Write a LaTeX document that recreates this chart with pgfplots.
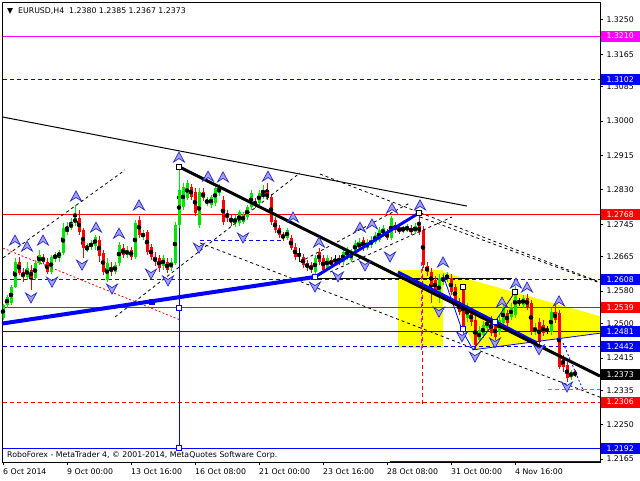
\documentclass[border=0pt]{standalone}
\usepackage{fontspec}
\setmainfont{DejaVu Sans}
\usepackage{pgfplots}
\usepackage{pgfplotstable}
\pgfplotsset{compat=1.18}
\definecolor{mtgreen}{RGB}{0,230,0}
\definecolor{mtred}{RGB}{255,0,0}
\definecolor{mtblue}{RGB}{0,0,255}
\definecolor{mtmag}{RGB}{255,0,255}
\definecolor{mtyellow}{RGB}{255,255,0}
\definecolor{arrdark}{RGB}{40,40,200}
\definecolor{arrlight}{RGB}{160,160,245}
\definecolor{mtorange}{RGB}{255,90,20}
\newcommand\mtf{\fontsize{7.8}{9}\selectfont}

\pgfdeclareplotmark{fup}{%
  \pgfpathmoveto{\pgfqpoint{0pt}{5pt}}%
  \pgfpathlineto{\pgfqpoint{5.5pt}{-5pt}}%
  \pgfpathlineto{\pgfqpoint{0pt}{-1.5pt}}%
  \pgfpathlineto{\pgfqpoint{-5.5pt}{-5pt}}%
  \pgfpathclose
  \pgfusepathqfillstroke}
\pgfdeclareplotmark{fdn}{%
  \pgfpathmoveto{\pgfqpoint{0pt}{-5pt}}%
  \pgfpathlineto{\pgfqpoint{5.5pt}{5pt}}%
  \pgfpathlineto{\pgfqpoint{0pt}{1.5pt}}%
  \pgfpathlineto{\pgfqpoint{-5.5pt}{5pt}}%
  \pgfpathclose
  \pgfusepathqfillstroke}

\pgfplotstableread{
i o h l c
0 1.2514 1.2548 1.2509 1.2546
1 1.2546 1.2570 1.2538 1.2565
2 1.2551 1.2595 1.2546 1.2590
3 1.2590 1.2662 1.2588 1.2652
6 1.2615 1.2652 1.2607 1.2637
8 1.2612 1.2657 1.2607 1.2649
9 1.2649 1.2682 1.2644 1.2669
12 1.2627 1.2669 1.2622 1.2664
13 1.2662 1.2677 1.2652 1.2669
14 1.2664 1.2682 1.2652 1.2677
15 1.2674 1.2748 1.2669 1.2736
16 1.2726 1.2751 1.2719 1.2736
17 1.2736 1.2761 1.2731 1.2748
18 1.2748 1.2793 1.2741 1.2761
21 1.2682 1.2699 1.2677 1.2689
22 1.2689 1.2706 1.2682 1.2699
23 1.2691 1.2719 1.2682 1.2714
26 1.2607 1.2662 1.2602 1.2649
28 1.2627 1.2652 1.2622 1.2644
29 1.2649 1.2701 1.2642 1.2694
31 1.2669 1.2691 1.2662 1.2682
33 1.2664 1.2756 1.2659 1.2748
35 1.2714 1.2731 1.2706 1.2723
40 1.2642 1.2669 1.2632 1.2662
42 1.2637 1.2662 1.2630 1.2652
43 1.2649 1.2751 1.2644 1.2743
44 1.2743 1.2887 1.2736 1.2830
45 1.2788 1.2847 1.2780 1.2837
46 1.2810 1.2854 1.2805 1.2847
49 1.2743 1.2835 1.2736 1.2825
51 1.2798 1.2812 1.2790 1.2805
52 1.2793 1.2817 1.2785 1.2812
53 1.2798 1.2842 1.2790 1.2835
54 1.2823 1.2845 1.2815 1.2835
58 1.2748 1.2768 1.2738 1.2761
59 1.2748 1.2780 1.2741 1.2775
60 1.2751 1.2775 1.2746 1.2768
61 1.2763 1.2793 1.2756 1.2788
62 1.2788 1.2830 1.2780 1.2823
64 1.2798 1.2830 1.2793 1.2823
65 1.2812 1.2842 1.2808 1.2823
71 1.2711 1.2736 1.2706 1.2731
78 1.2627 1.2669 1.2622 1.2662
81 1.2637 1.2669 1.2630 1.2662
85 1.2652 1.2686 1.2644 1.2677
86 1.2664 1.2689 1.2657 1.2682
87 1.2657 1.2684 1.2652 1.2677
88 1.2677 1.2706 1.2672 1.2699
89 1.2686 1.2711 1.2682 1.2701
91 1.2686 1.2709 1.2682 1.2701
92 1.2694 1.2716 1.2686 1.2706
93 1.2701 1.2726 1.2696 1.2719
94 1.2706 1.2738 1.2701 1.2731
95 1.2719 1.2743 1.2714 1.2736
97 1.2711 1.2765 1.2706 1.2761
100 1.2731 1.2741 1.2723 1.2736
101 1.2731 1.2746 1.2726 1.2738
103 1.2726 1.2748 1.2721 1.2741
109 1.2565 1.2622 1.2551 1.2612
110 1.2602 1.2625 1.2595 1.2615
111 1.2612 1.2627 1.2602 1.2620
116 1.2514 1.2551 1.2504 1.2541
119 1.2459 1.2494 1.2454 1.2484
120 1.2471 1.2506 1.2464 1.2496
121 1.2489 1.2518 1.2481 1.2509
124 1.2479 1.2518 1.2471 1.2509
125 1.2501 1.2548 1.2494 1.2541
127 1.2516 1.2551 1.2509 1.2541
128 1.2521 1.2593 1.2514 1.2583
130 1.2546 1.2570 1.2538 1.2563
133 1.2479 1.2501 1.2471 1.2491
137 1.2479 1.2538 1.2471 1.2528
142 1.2368 1.2385 1.2360 1.2380
}\upcandles

\pgfplotstableread{
i o h l c
4 1.2652 1.2664 1.2620 1.2625
5 1.2627 1.2637 1.2602 1.2615
7 1.2632 1.2644 1.2583 1.2612
10 1.2664 1.2672 1.2647 1.2652
11 1.2652 1.2662 1.2622 1.2627
19 1.2761 1.2780 1.2719 1.2726
20 1.2731 1.2736 1.2662 1.2686
24 1.2706 1.2716 1.2652 1.2667
25 1.2674 1.2682 1.2620 1.2627
27 1.2640 1.2652 1.2617 1.2627
30 1.2686 1.2696 1.2662 1.2669
32 1.2682 1.2689 1.2657 1.2664
34 1.2756 1.2765 1.2711 1.2719
36 1.2726 1.2731 1.2669 1.2677
37 1.2689 1.2696 1.2657 1.2664
38 1.2664 1.2677 1.2642 1.2652
39 1.2662 1.2669 1.2627 1.2637
41 1.2652 1.2662 1.2625 1.2632
47 1.2837 1.2845 1.2805 1.2812
48 1.2825 1.2835 1.2765 1.2773
50 1.2825 1.2835 1.2803 1.2810
55 1.2805 1.2815 1.2743 1.2751
56 1.2773 1.2780 1.2751 1.2761
57 1.2761 1.2768 1.2741 1.2751
63 1.2800 1.2810 1.2785 1.2793
66 1.2825 1.2847 1.2805 1.2810
67 1.2812 1.2820 1.2743 1.2751
68 1.2756 1.2763 1.2723 1.2731
69 1.2736 1.2743 1.2711 1.2719
70 1.2719 1.2726 1.2704 1.2711
72 1.2711 1.2719 1.2682 1.2686
73 1.2689 1.2699 1.2657 1.2664
75 1.2664 1.2672 1.2637 1.2644
76 1.2649 1.2657 1.2630 1.2637
77 1.2644 1.2652 1.2625 1.2632
79 1.2677 1.2686 1.2644 1.2652
80 1.2662 1.2669 1.2627 1.2632
82 1.2657 1.2664 1.2637 1.2644
84 1.2662 1.2669 1.2644 1.2652
90 1.2706 1.2714 1.2679 1.2686
96 1.2726 1.2733 1.2706 1.2711
98 1.2743 1.2751 1.2723 1.2731
99 1.2738 1.2746 1.2721 1.2726
102 1.2736 1.2743 1.2719 1.2726
104 1.2741 1.2773 1.2719 1.2726
105 1.2731 1.2741 1.2637 1.2644
106 1.2642 1.2652 1.2617 1.2627
107 1.2627 1.2637 1.2551 1.2595
108 1.2607 1.2617 1.2573 1.2583
112 1.2612 1.2622 1.2570 1.2578
113 1.2590 1.2598 1.2548 1.2558
114 1.2553 1.2563 1.2521 1.2528
115 1.2583 1.2590 1.2479 1.2489
117 1.2528 1.2538 1.2494 1.2504
118 1.2509 1.2518 1.2437 1.2447
122 1.2509 1.2518 1.2469 1.2476
123 1.2496 1.2504 1.2459 1.2467
126 1.2526 1.2533 1.2494 1.2501
131 1.2563 1.2573 1.2533 1.2541
132 1.2551 1.2558 1.2471 1.2479
134 1.2504 1.2514 1.2447 1.2454
135 1.2496 1.2509 1.2469 1.2476
138 1.2528 1.2546 1.2501 1.2509
139 1.2526 1.2533 1.2388 1.2392
140 1.2417 1.2422 1.2380 1.2392
141 1.2397 1.2405 1.2355 1.2365
143 1.2380 1.2385 1.2367 1.2373
}\downcandles

\pgfplotstableread{
i o h l c
74 1.2674 1.2686 1.2652 1.2674
83 1.2657 1.2669 1.2642 1.2657
129 1.2551 1.2563 1.2543 1.2551
136 1.2484 1.2494 1.2474 1.2484
}\dojicandles

\begin{document}
\begin{tikzpicture}
\begin{axis}[
  scale only axis, width=597.5pt, height=459.5pt,
  xmin=-0.125, xmax=149.25, ymin=1.21579, ymax=1.32928,
  axis line style={line width=1pt},
  tick align=outside, major tick length=3pt,
  xtick pos=bottom, ytick pos=right, yticklabel pos=right,
  tick style={black, line width=0.8pt},
  xtick={0,16,32,48,64,80,96,112,128},
  xticklabels={6 Oct 2014, 9 Oct 00:00, 13 Oct 16:00, 16 Oct 08:00, 21 Oct 00:00, 23 Oct 16:00, 28 Oct 08:00, 31 Oct 00:00, 4 Nov 16:00},
  ytick={1.2165,1.2250,1.2335,1.2415,1.2500,1.2580,1.2665,1.2745,1.2830,1.2915,1.3000,1.3085,1.3165,1.3250},
  yticklabels={1.2165,1.2250,1.2335,1.2415,1.2500,1.2580,1.2665,1.2745,1.2830,1.2915,1.3000,1.3085,1.3165,1.3250},
  every tick label/.append style={font=\mtf, text=black},
  xticklabel style={anchor=north west, inner xsep=0pt},
  yticklabel style={anchor=west},
  clip mode=individual,
]
% yellow zones
\addplot[fill=mtyellow, draw=none] coordinates {(98.75,1.2632) (110,1.2632) (110,1.2439) (98.75,1.2439)};
\addplot[fill=mtyellow, draw=none] coordinates {(110,1.2627) (149.25,1.2518) (149.25,1.2476) (118,1.2435)};
% horizontal levels
\addplot[mtmag, line width=1pt] coordinates {(-0.125,1.3210) (149.25,1.3210)};
\addplot[mtblue, line width=1pt, dash pattern=on 4pt off 3pt] coordinates {(-0.125,1.3102) (149.25,1.3102)};
\addplot[mtred, line width=1pt] coordinates {(-0.125,1.2768) (149.25,1.2768)};
\addplot[mtblue, line width=1pt, dash pattern=on 4pt off 3pt] coordinates {(-0.125,1.2608) (149.25,1.2608)};
\addplot[mtred, line width=1pt] coordinates {(-0.125,1.2539) (149.25,1.2539)};
\addplot[mtblue, line width=1pt] coordinates {(-0.125,1.2481) (149.25,1.2481)};
\addplot[mtblue, line width=1pt, dash pattern=on 4pt off 3pt] coordinates {(-0.125,1.2442) (149.25,1.2442)};
\addplot[mtred, line width=1pt, dash pattern=on 4pt off 3pt] coordinates {(-0.125,1.2306) (149.25,1.2306)};
\addplot[mtblue, line width=1pt] coordinates {(-0.125,1.2192) (149.25,1.2192)};
\addplot[mtblue, line width=1pt] coordinates {(96.75,1.2160) (149.25,1.2160)};
\addplot[mtblue, line width=1pt, dash pattern=on 4pt off 3pt] coordinates {(49.25,1.2706) (70,1.2706)};
\addplot[black, line width=1pt] coordinates {(78,1.2612) (127.25,1.2612)};
\addplot[mtorange, line width=1pt, dash pattern=on 4pt off 3pt] coordinates {(136.25,1.2336) (149.25,1.2336)};
% verticals
\addplot[mtblue, line width=1pt] coordinates {(44,1.2887) (44,1.2192)};
\addplot[mtred, line width=1pt, dash pattern=on 4pt off 3pt] coordinates {(104.75,1.2726) (104.75,1.2299)};
\addplot[mtmag, line width=1pt, dash pattern=on 4pt off 3pt] coordinates {(104.5,1.2652) (104.5,1.2435)};
% candles: wicks
\addplot[only marks, mark=none, error bars/.cd, y dir=both, y explicit, error mark=none, error bar style={line width=1pt, draw=mtgreen}]
  table[x=i, y expr={(\thisrow{h}+\thisrow{l})/2}, y error expr={(\thisrow{h}-\thisrow{l})/2}] {\upcandles};
\addplot[only marks, mark=none, error bars/.cd, y dir=both, y explicit, error mark=none, error bar style={line width=1pt, draw=mtred}]
  table[x=i, y expr={(\thisrow{h}+\thisrow{l})/2}, y error expr={(\thisrow{h}-\thisrow{l})/2}] {\downcandles};
\addplot[only marks, mark=none, error bars/.cd, y dir=both, y explicit, error mark=none, error bar style={line width=1pt, draw=black}]
  table[x=i, y expr={(\thisrow{h}+\thisrow{l})/2}, y error expr={(\thisrow{h}-\thisrow{l})/2}] {\dojicandles};
% candles: bodies
\addplot[only marks, mark=none, error bars/.cd, y dir=both, y explicit, error mark=none, error bar style={line width=3pt, draw=mtgreen}]
  table[x=i, y expr={(\thisrow{o}+\thisrow{c})/2}, y error expr={(\thisrow{c}-\thisrow{o})/2}] {\upcandles};
\addplot[only marks, mark=none, error bars/.cd, y dir=both, y explicit, error mark=none, error bar style={line width=3pt, draw=mtred}]
  table[x=i, y expr={(\thisrow{o}+\thisrow{c})/2}, y error expr={(\thisrow{o}-\thisrow{c})/2}] {\downcandles};
\addplot[only marks, mark=-, mark size=2pt, mark options={line width=1pt, draw=black}] table[x=i, y=c] {\dojicandles};
% trend lines
\addplot[black, line width=1pt] coordinates {(-0.125,1.3010) (116,1.2790)};
\addplot[black, line width=0.8pt, dash pattern=on 3pt off 3pt] coordinates {(0,1.2662) (30.5,1.2879)};
\addplot[black, line width=0.8pt, dash pattern=on 3pt off 3pt] coordinates {(28,1.2516) (74.25,1.2872)};
\addplot[black, line width=0.8pt, dash pattern=on 3pt off 3pt] coordinates {(79.25,1.2869) (149.25,1.2602)};
\addplot[black, line width=0.8pt, dash pattern=on 3pt off 3pt] coordinates {(104.25,1.2763) (149.25,1.2600)};
\addplot[black, line width=0.8pt, dash pattern=on 3pt off 3pt] coordinates {(49.25,1.2699) (149.25,1.2318)};
\addplot[black, line width=0.8pt, dash pattern=on 3pt off 3pt] coordinates {(74.25,1.2652) (101.75,1.2798)};
\addplot[black, line width=0.8pt, dash pattern=on 3pt off 3pt] coordinates {(81.75,1.2627) (112.25,1.2763)};
\addplot[mtred, line width=0.8pt, dash pattern=on 2pt off 2pt] coordinates {(0,1.2686) (44.25,1.2509)};
\addplot[mtblue, line width=0.8pt] coordinates {(110,1.2620) (114.75,1.2484) (117.5,1.2435) (123,1.2504) (128,1.2578)};
\addplot[mtblue, line width=0.8pt] coordinates {(117.5,1.2435) (149.25,1.2476)};
\addplot[mtblue, line width=0.8pt, dash pattern=on 2pt off 2pt] coordinates {(140,1.2452) (145,1.2336)};
\addplot[mtblue, line width=4pt] coordinates {(-0.125,1.2500) (78,1.2615)};
\addplot[mtblue, line width=3pt] coordinates {(78,1.2615) (104,1.2773)};
\addplot[mtblue, line width=3pt] coordinates {(98.75,1.2627) (133.5,1.2452)};
\addplot[black, line width=3pt] coordinates {(44,1.2887) (149.25,1.2370)};
% anchor squares
\addplot[only marks, mark=square*, mark size=2.5pt, mark options={draw=black, fill=white, line width=1.2pt}] coordinates {(44,1.2887) (104,1.2773) (115,1.2590) (128,1.2578)};
\addplot[only marks, mark=square*, mark size=2.5pt, mark options={draw=mtblue, fill=white, line width=1pt}] coordinates {(78,1.2615) (44,1.2538) (44,1.2192) (115,1.2486) (123,1.2504)};
\addplot[only marks, mark=square*, mark size=2.5pt, mark options={draw=mtblue, fill=mtblue}] coordinates {(37.25,1.2553)};
% fractals
\addplot[only marks, mark=fup, mark options={draw=arrdark, fill=arrlight, line width=0.7pt}] coordinates {
(3,1.2706) (6,1.2691) (10,1.2706) (18.25,1.2815) (23.25,1.2738) (29,1.2723) (34,1.2793) (44,1.2911) (51.25,1.2864) (55,1.2862) (66.25,1.2864) (72.5,1.2763) (79,1.2701) (89.25,1.2738) (92.25,1.2746) (97.25,1.2785) (104.25,1.2793) (110,1.2652) (124.75,1.2553) (128.25,1.2600) (131,1.2590) (139,1.2556)};
\addplot[only marks, mark=fdn, mark options={draw=arrdark, fill=arrlight, line width=0.7pt}] coordinates {
(7,1.2563) (12.25,1.2602) (19.75,1.2644) (27.25,1.2585) (37,1.2622) (41.25,1.2605) (49,1.2686) (60,1.2711) (78,1.2590) (83.75,1.2615) (90.5,1.2642) (96.75,1.2664) (109,1.2528) (114.75,1.2467) (118,1.2417) (123,1.2452) (134,1.2435) (141,1.2343)};
% label anchors
\coordinate (b1) at (axis cs:149.25,1.3210);
\coordinate (b2) at (axis cs:149.25,1.3102);
\coordinate (b3) at (axis cs:149.25,1.2768);
\coordinate (b4) at (axis cs:149.25,1.2608);
\coordinate (b5) at (axis cs:149.25,1.2539);
\coordinate (b6) at (axis cs:149.25,1.2481);
\coordinate (b7) at (axis cs:149.25,1.2442);
\coordinate (b8) at (axis cs:149.25,1.2373);
\coordinate (b9) at (axis cs:149.25,1.2306);
\coordinate (b10) at (axis cs:149.25,1.2192);
\end{axis}
\foreach \n/\c/\t in {b1/mtmag/1.3210, b2/mtblue/1.3102, b3/mtred/1.2768, b4/mtblue/1.2608, b5/mtred/1.2539, b6/mtblue/1.2481, b7/mtblue/1.2442, b8/black/1.2373, b9/mtred/1.2306, b10/mtblue/1.2192}
  \node[anchor=west, fill=\c, text=white, font=\mtf, minimum width=39pt, minimum height=11pt, inner sep=0pt] at ([xshift=0.5pt]\n) {\t};
\node[anchor=west, font=\mtf, inner sep=0pt] at ([shift={(4.5pt,-9pt)}]current axis.north west) {▼};
\node[anchor=west, font=\mtf, inner sep=0pt] at ([shift={(15.5pt,-9pt)}]current axis.north west) {EURUSD,H4\ \ 1.2380 1.2385 1.2367 1.2373};
\node[anchor=west, font=\mtf, inner sep=0pt] at ([shift={(4.5pt,7pt)}]current axis.south west) {RoboForex - MetaTrader 4, © 2001-2014, MetaQuotes Software Corp.};
\pgfresetboundingbox
\path[use as bounding box] ([shift={(-2.5pt,-18pt)}]current axis.south west) rectangle ([shift={(40pt,2.5pt)}]current axis.north east);
\end{tikzpicture}
\end{document}
